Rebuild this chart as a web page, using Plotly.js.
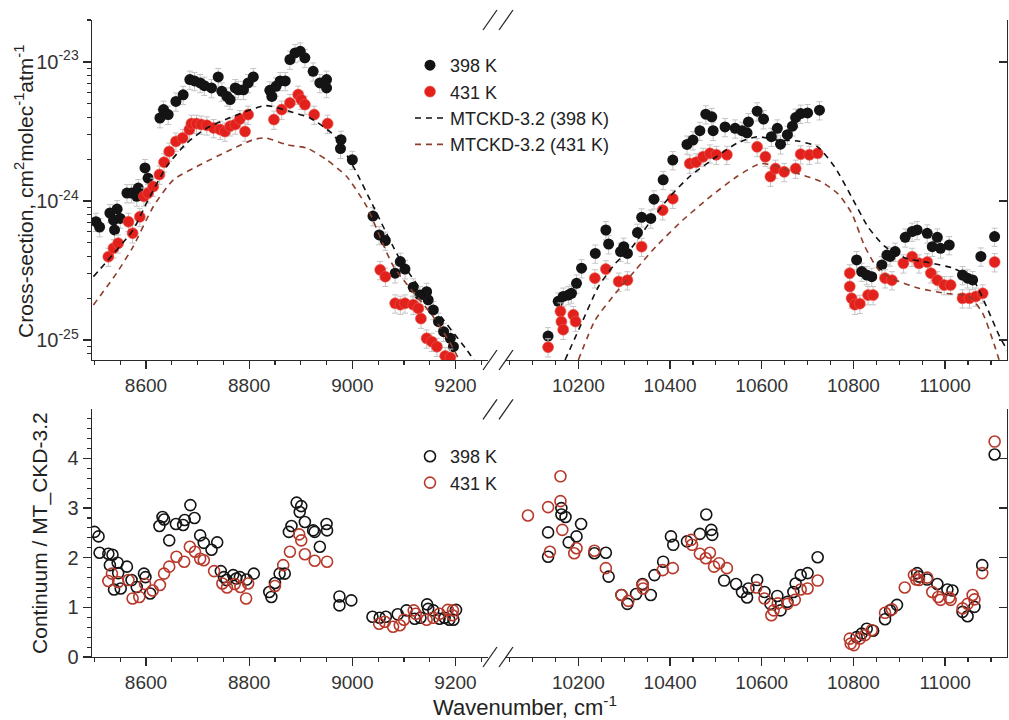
<!DOCTYPE html>
<html><head><meta charset="utf-8">
<script src="https://cdn.plot.ly/plotly-3.0.1.min.js"></script>
<style>html,body{margin:0;padding:0;background:#fff}#chart{width:1009px;height:720px}</style>
</head><body><div id="chart"></div>
<script>
// ---------- DATA ----------
// Cross-section, 398 K (cm^2 molec^-1 atm^-1)
const nu398 = [8503,8510,8530,8537,8539,8544,8550,8563,8572,8582,8585,8598,8604,8627,8634,8643,8658,8672,8685,8694,8705,8713,8727,8740,8747,8757,8763,8773,8779,8789,8798,8808,8840,8844,8852,8860,8870,8879,8889,8899,8908,8924,8937,8950,8950,8978,8977,9000,9040,9052,9064,9083,9093,9102,9118,9131,9144,9147,9157,9167,9177,9190,9196,
  10134,10156,10167,10178,10185,10196,10207,10237,10260,10266,10292,10299,10307,10329,10338,10358,10365,10385,10406,10437,10450,10465,10478,10491,10494,10520,10542,10557,10568,10571,10590,10604,10621,10634,10641,10656,10667,10674,10685,10700,10726,10807,10818,10829,10840,10862,10873,10880,10891,10913,10928,10939,10961,10972,10983,10990,11009,11038,11049,11060,11078,11108];
const cs398 = [7.1e-25,6.5e-25,8.2e-25,7.3e-25,6.2e-25,8.75e-25,7.5e-25,1.14e-24,1.14e-24,1.08e-24,1.24e-24,1.73e-24,1.46e-24,3.95e-24,4.54e-24,4.18e-24,5.2e-24,5.8e-24,7.46e-24,7.3e-24,7.06e-24,6.75e-24,6.5e-24,7.8e-24,6.14e-24,5.65e-24,5.36e-24,6.5e-24,6.3e-24,6.3e-24,7.06e-24,7.8e-24,6.25e-24,5.65e-24,6.67e-24,7.3e-24,7.3e-24,1.04e-23,1.16e-23,1.19e-23,1.07e-23,8.55e-24,7.06e-24,7.46e-24,6.5e-24,2.76e-24,2.38e-24,1.98e-24,7.8e-25,5.7e-25,5.2e-25,3.03e-25,3.67e-25,3.24e-25,2.4e-25,2.11e-25,2.23e-25,1.95e-25,1.65e-25,1.36e-25,1.15e-25,1.03e-25,8.97e-26,
  1.07e-25,1.9e-25,2.06e-25,2.11e-25,2.17e-25,2.56e-25,3.29e-25,4.2e-25,6.19e-25,4.9e-25,4.33e-25,4.7e-25,4.2e-25,5.93e-25,7.64e-25,7.5e-25,1.03e-24,1.42e-24,1.97e-24,2.55e-24,2.74e-24,3.2e-24,4.21e-24,4.03e-24,3.2e-24,3.41e-24,3.33e-24,3.2e-24,3.09e-24,3.7e-24,4.42e-24,3.88e-24,2.9e-24,3.33e-24,2.56e-24,3.0e-24,3.45e-24,3.98e-24,4.25e-24,4.3e-24,4.5e-24,3.77e-25,3.11e-25,2.94e-25,2.86e-25,3.47e-25,4.09e-25,4.0e-25,4.33e-25,5.48e-25,6.03e-25,6.2e-25,5.86e-25,4.7e-25,5.48e-25,4.57e-25,4.83e-25,2.94e-25,2.79e-25,2.71e-25,4.0e-25,5.55e-25];
// Cross-section, 431 K
const nu431 = [8527,8537,8546,8566,8574,8588,8596,8604,8614,8626,8635,8645,8658,8671,8684,8688,8698,8707,8718,8731,8744,8753,8763,8773,8782,8792,8798,8848,8863,8879,8895,8901,8908,8926,8952,9054,9064,9083,9093,9102,9118,9128,9133,9144,9154,9164,9180,9190,
  10134,10161,10163,10167,10189,10194,10236,10260,10288,10307,10338,10384,10406,10443,10457,10472,10487,10501,10524,10590,10608,10619,10630,10649,10674,10685,10704,10722,10792,10792,10796,10803,10814,10832,10843,10869,10884,10909,10928,10943,10961,10969,10983,10998,11012,11038,11053,11067,11082,11108];
const cs431 = [3.98e-25,4.58e-25,4.97e-25,7.1e-25,5.87e-25,7.7e-25,1.08e-24,1.14e-24,1.27e-24,1.55e-24,1.9e-24,2.27e-24,2.68e-24,2.84e-24,3.26e-24,3.6e-24,3.6e-24,3.55e-24,3.5e-24,3.35e-24,3.26e-24,3.16e-24,3.45e-24,3.55e-24,3.88e-24,3.16e-24,4.18e-24,3.85e-24,4.54e-24,5.07e-24,5.82e-24,5.35e-24,4.93e-24,4.18e-24,3.6e-24,3.2e-25,2.86e-25,1.84e-25,1.8e-25,1.84e-25,1.8e-25,1.69e-25,1.43e-25,1.03e-25,9.75e-26,8.97e-26,7.7e-26,7.5e-26,
  8.9e-26,1.61e-25,1.36e-25,1.19e-25,1.52e-25,1.36e-25,2.79e-25,3.24e-25,2.64e-25,2.7e-25,4.7e-25,8.6e-25,1.04e-24,1.86e-24,1.9e-24,2.08e-24,2.2e-24,2.15e-24,2.15e-24,2.45e-24,2.08e-24,1.5e-24,1.71e-24,1.62e-24,1.71e-24,2.17e-24,2.15e-24,2.2e-24,3.03e-25,2.43e-25,2.0e-25,1.8e-25,1.83e-25,2.11e-25,2.11e-25,2.79e-25,2.7e-25,3.57e-25,3.98e-25,3.57e-25,3.64e-25,3.03e-25,2.7e-25,2.49e-25,2.49e-25,2.0e-25,2.0e-25,2.06e-25,2.17e-25,3.64e-25];
// MT_CKD-3.2 model curves
const nuM398 = [8498,8521,8575,8601,8640,8679,8718,8769,8832,8879,8918,8963,9002,9041,9093,9157,9222,9240,null,10171,10207,10244,10281,10318,10354,10399,10443,10501,10546,10590,10634,10678,10722,10759,10796,10832,10869,10913,10965,11016,11060,11090,11119,11140];
const csM398 = [2.86e-25,3.57e-25,6.2e-25,9.66e-25,1.77e-24,2.61e-24,3.35e-24,4.06e-24,4.85e-24,4.4e-24,3.95e-24,3.0e-24,1.77e-24,9.1e-25,3.77e-25,1.74e-25,8.5e-26,6.8e-26,null,7.2e-26,1.32e-25,2.43e-25,3.57e-25,4.7e-25,6.9e-25,1.07e-24,1.5e-24,2.08e-24,2.6e-24,2.9e-24,2.74e-24,2.7e-24,2.45e-24,1.76e-24,1.07e-24,6.5e-25,4.7e-25,3.9e-25,3.6e-25,3.3e-25,2.75e-25,1.75e-25,1.06e-25,8.0e-26];
const nuM431 = [8498,8543,8575,8614,8653,8705,8757,8808,8832,8873,8912,8950,8989,9028,9080,9157,9190,9209,null,10200,10237,10281,10325,10369,10428,10487,10546,10597,10634,10678,10729,10766,10796,10825,10855,10891,10943,11001,11053,11082,11104,11119];
const csM431 = [1.79e-25,3.03e-25,4.7e-25,9.1e-25,1.42e-24,1.82e-24,2.27e-24,2.76e-24,2.84e-24,2.54e-24,2.4e-24,1.98e-24,1.5e-24,9.1e-25,3.38e-25,1.47e-25,9.5e-26,7.0e-26,null,7.2e-26,1.4e-25,2.17e-25,3.2e-25,4.7e-25,7.3e-25,1.07e-24,1.5e-24,1.86e-24,1.77e-24,1.58e-24,1.38e-24,1.13e-24,8.2e-25,4.7e-25,3.2e-25,2.71e-25,2.36e-25,2.17e-25,2.06e-25,1.56e-25,1.0e-25,7.0e-26];
// Ratio continuum / MT_CKD-3.2
const nuR398 = [8500,8508,8510,8527,8535,8530,8538,8545,8546,8551,8563,8572,8582,8596,8599,8608,8626,8632,8635,8645,8658,8672,8675,8686,8694,8705,8712,8727,8738,8745,8751,8756,8769,8775,8782,8795,8809,8839,8843,8850,8859,8869,8877,8882,8892,8898,8901,8908,8924,8927,8937,8950,8951,8975,8975,8998,9039,9053,9065,9088,9105,9121,9132,9145,9147,9157,9169,9179,9188,9196,9201,
  10134,10134,10163,10163,10172,10179,10196,10206,10235,10260,10266,10294,10307,10326,10340,10358,10366,10385,10402,10407,10437,10465,10479,10490,10492,10518,10544,10557,10568,10571,10590,10606,10619,10634,10641,10656,10669,10674,10685,10700,10722,10807,10818,10829,10843,10869,10880,10895,10939,10943,10961,10983,11005,11016,11038,11049,11064,11081,11108];
const ratio398 = [2.52,2.43,2.10,2.08,2.06,1.85,1.36,1.90,1.69,1.38,1.82,1.55,1.41,1.68,1.61,1.28,2.64,2.82,2.77,2.35,2.68,2.66,2.76,3.06,2.80,2.45,2.30,2.16,2.31,1.73,1.61,1.55,1.65,1.58,1.61,1.56,1.68,1.31,1.21,1.49,1.68,1.68,2.52,2.64,3.11,2.92,3.04,2.72,2.55,2.52,2.22,2.68,2.55,1.22,1.04,1.14,0.81,0.79,0.81,0.86,0.94,0.77,0.79,1.06,0.97,0.94,0.77,0.79,0.75,0.75,0.95,
  2.51,2.02,3.00,2.87,2.82,2.31,2.43,2.68,2.09,2.10,1.62,1.25,1.07,1.27,1.47,1.25,1.65,1.92,2.43,2.26,2.33,2.48,2.87,2.56,2.46,1.54,1.47,1.31,1.20,1.38,1.55,1.31,1.07,1.23,0.94,1.11,1.31,1.48,1.65,1.69,2.01,0.40,0.47,0.57,0.53,0.76,0.94,1.05,1.69,1.62,1.56,1.47,1.36,1.34,0.91,0.82,1.01,1.85,4.08];
const nuR431 = [8527,8534,8546,8566,8574,8587,8598,8613,8627,8635,8645,8659,8674,8685,8695,8705,8712,8732,8748,8757,8772,8783,8794,8798,8850,8866,8879,8897,8901,8908,8927,8951,9052,9063,9079,9092,9100,9119,9123,9144,9157,9169,9185,9194,9195,
  10090,10134,10138,10161,10161,10165,10191,10196,10235,10260,10294,10309,10340,10341,10384,10406,10446,10448,10465,10478,10487,10496,10507,10524,10588,10606,10621,10626,10635,10656,10672,10685,10700,10722,10792,10794,10801,10814,10825,10840,10869,10884,10912,10932,10937,10943,10961,10972,10985,10990,11009,11012,11038,11049,11060,11064,11081,11108];
const ratio431 = [1.53,1.68,1.51,1.55,1.18,1.21,1.47,1.34,1.45,1.68,1.82,2.02,1.92,2.22,2.12,1.98,1.95,1.73,1.48,1.40,1.47,1.41,1.18,1.48,1.43,1.85,2.12,2.47,2.35,2.07,1.94,1.92,0.67,0.71,0.61,0.64,0.75,0.94,0.87,0.75,0.79,0.87,0.95,0.84,0.94,
  2.85,3.02,2.12,3.64,3.14,2.56,2.09,2.19,2.14,1.79,1.25,1.13,1.45,1.38,1.75,1.79,2.36,2.26,2.08,1.99,2.10,1.82,1.89,1.79,1.40,1.18,0.84,0.94,1.08,1.07,1.15,1.36,1.38,1.54,0.37,0.27,0.24,0.37,0.44,0.54,0.89,0.96,1.40,1.65,1.56,1.55,1.60,1.31,1.21,1.15,1.20,1.15,0.98,1.07,1.25,1.16,1.69,4.34];
const logTickVals = [1e-25,1e-24,1e-23];
const logTickText = ['10<sup>-25</sup>','10<sup>-24</sup>','10<sup>-23</sup>'];
const seriesNames = ['398 K','431 K','MTCKD-3.2 (398 K)','MTCKD-3.2 (431 K)'];

// ---------- LAYOUT GEOMETRY ----------
const W=1009,H=720,ML=92,MR=2,MT=20,MB=63;
const PW=W-ML-MR, PH=H-MT-MB;
const fx=p=>(p-ML)/PW, fy=p=>(H-MB-p)/PH;
const leftDom=[0,fx(488)], rightDom=[fx(505),1];
const topDom=[fy(360),1], botDom=[0,fy(409.3)];
const leftRange=[8495.3,9263], rightRange=[10040,11135];
const topRange=[Math.log10(7.2e-26),Math.log10(2.0e-23)], botRange=[0,4.99];

const FONT='Liberation Sans, Arial, sans-serif';
const AX='#2a2a2a';
const BLACK='#141414', RED='#e2211c', BROWN='#8e3d2c', RRED='#b8392b';

function xax(dom,range,anchor,t0,showLabels){
  return {domain:dom,range:range,anchor:anchor,showline:true,linecolor:AX,linewidth:1.3,
    ticks:'outside',ticklen:8,tickwidth:1.3,tickcolor:AX,tickmode:'linear',tick0:t0,dtick:200,tickformat:'d',
    minor:{ticks:'outside',ticklen:4,tickwidth:1.2,tickcolor:AX,dtick:50,tick0:t0},
    showticklabels:showLabels,tickfont:{family:FONT,size:19,color:'#333'},
    showgrid:false,zeroline:false,fixedrange:true};
}
function xtop(over,dom,range,anchor,t0){
  return {overlaying:over,side:'top',domain:dom,range:range,anchor:anchor,showline:true,linecolor:AX,linewidth:1.3,
    ticks:'inside',ticklen:8,tickwidth:1.3,tickcolor:AX,tickmode:'linear',tick0:t0,dtick:200,
    minor:{ticks:'inside',ticklen:4,tickwidth:1.2,tickcolor:AX,dtick:50,tick0:t0},
    showticklabels:false,showgrid:false,zeroline:false,fixedrange:true};
}
const minorLog=[];
for(let e=-26;e<=-23;e++){for(let m=2;m<=9;m++){minorLog.push(m*Math.pow(10,e));}}

const layout={
  width:W,height:H,margin:{l:ML,r:MR,t:MT,b:MB},
  paper_bgcolor:'#fff',plot_bgcolor:'#fff',
  font:{family:FONT,size:19,color:'#222'},
  showlegend:true,
  xaxis:xax(leftDom,leftRange,'y',8600,true),
  xaxis2:xax(rightDom,rightRange,'y2',10000,true),
  xaxis3:xax(leftDom,leftRange,'y3',8600,true),
  xaxis4:xax(rightDom,rightRange,'y4',10000,true),
  xaxis5:xtop('x',leftDom,leftRange,'y',8600),
  xaxis6:xtop('x2',rightDom,rightRange,'y2',10000),
  xaxis7:xtop('x3',leftDom,leftRange,'y3',8600),
  xaxis8:xtop('x4',rightDom,rightRange,'y4',10000),
  yaxis:{domain:topDom,type:'log',range:topRange,anchor:'x',side:'left',showline:true,linecolor:AX,linewidth:1.3,
    ticks:'outside',ticklen:8,tickwidth:1.3,tickcolor:AX,tickmode:'array',tickvals:logTickVals,ticktext:logTickText,
    minor:{ticks:'outside',ticklen:4,tickwidth:1.1,tickcolor:AX,tickmode:'array',tickvals:minorLog},
    tickfont:{family:FONT,size:20,color:'#333'},showgrid:false,zeroline:false,fixedrange:true},
  yaxis2:{domain:topDom,type:'log',range:topRange,anchor:'x2',side:'right',showline:true,linecolor:AX,linewidth:1.3,
    ticks:'inside',ticklen:8,tickwidth:1.3,tickcolor:AX,tickmode:'array',tickvals:logTickVals,
    showticklabels:false,showgrid:false,zeroline:false,fixedrange:true},
  yaxis3:{domain:botDom,range:botRange,anchor:'x3',side:'left',showline:true,linecolor:AX,linewidth:1.3,
    ticks:'outside',ticklen:8,tickwidth:1.3,tickcolor:AX,tickmode:'linear',tick0:0,dtick:1,
    minor:{ticks:'outside',ticklen:4,tickwidth:1.1,tickcolor:AX,dtick:0.2,tick0:0},
    tickfont:{family:FONT,size:20,color:'#333'},showgrid:false,zeroline:false,fixedrange:true,
    title:{text:'Continuum / MT_CKD-3.2',font:{family:FONT,size:21,color:'#222'},standoff:14}},
  yaxis4:{domain:botDom,range:botRange,anchor:'x4',side:'right',showline:true,linecolor:AX,linewidth:1.3,
    ticks:'inside',ticklen:8,tickwidth:1.3,tickcolor:AX,tickmode:'linear',tick0:0,dtick:1,
    showticklabels:false,showgrid:false,zeroline:false,fixedrange:true},
  legend:{x:fx(410),y:fy(47),xanchor:'left',yanchor:'top',bgcolor:'rgba(255,255,255,0)',
    font:{family:FONT,size:18,color:'#222'},tracegroupgap:0,itemwidth:30,traceorder:'normal'},
  legend2:{x:fx(410),y:fy(438),xanchor:'left',yanchor:'top',bgcolor:'rgba(255,255,255,0)',
    font:{family:FONT,size:18,color:'#222'},tracegroupgap:0,itemwidth:30,traceorder:'normal'},
  annotations:[
    {text:'Wavenumber, cm<sup>-1</sup>',xref:'paper',yref:'paper',x:fx(525),y:fy(706),
      xanchor:'center',yanchor:'middle',showarrow:false,font:{family:FONT,size:22,color:'#222'}},
    {text:'Cross-section, cm<sup>2</sup>molec<sup>-1</sup>atm<sup>-1</sup>',xref:'paper',yref:'paper',x:fx(24),y:fy(192),
      xanchor:'center',yanchor:'middle',textangle:-90,showarrow:false,font:{family:FONT,size:21,color:'#222'}}
  ],
  shapes:[]
};
// axis-break slashes
[20,360,409.3,657].forEach(py=>{
  [[483,497],[499,513]].forEach(([a,b])=>{
    layout.shapes.push({type:'line',xref:'paper',yref:'paper',x0:fx(a),x1:fx(b),y0:fy(py+10),y1:fy(py-10),
      line:{color:AX,width:1.3}});
  });
});

const err={type:'percent',value:15,color:'#c4c4c4',thickness:1,width:3};
const traces=[];
[['x','y',true],['x2','y2',false]].forEach(([xa,ya,show])=>{
  traces.push({type:'scatter',mode:'markers',x:nu398,y:cs398,name:seriesNames[0],xaxis:xa,yaxis:ya,showlegend:show,legendgroup:'a',
    marker:{color:BLACK,size:11},error_y:err});
  traces.push({type:'scatter',mode:'markers',x:nu431,y:cs431,name:seriesNames[1],xaxis:xa,yaxis:ya,showlegend:show,legendgroup:'b',
    marker:{color:RED,size:11,line:{color:'rgba(235,90,80,0.6)',width:1}},error_y:err});
  traces.push({type:'scatter',mode:'lines',x:nuM398,y:csM398,name:seriesNames[2],xaxis:xa,yaxis:ya,showlegend:show,legendgroup:'c',
    line:{color:'#111',width:1.6,dash:'6px,5px',shape:'spline',smoothing:0.6}});
  traces.push({type:'scatter',mode:'lines',x:nuM431,y:csM431,name:seriesNames[3],xaxis:xa,yaxis:ya,showlegend:show,legendgroup:'d',
    line:{color:BROWN,width:1.6,dash:'6px,5px',shape:'spline',smoothing:0.6}});
});
[['x3','y3',true],['x4','y4',false]].forEach(([xa,ya,show])=>{
  traces.push({type:'scatter',mode:'markers',x:nuR398,y:ratio398,name:seriesNames[0],xaxis:xa,yaxis:ya,showlegend:show,legend:'legend2',legendgroup:'e',
    marker:{symbol:'circle-open',color:BLACK,size:11,line:{width:1.6}}});
  traces.push({type:'scatter',mode:'markers',x:nuR431,y:ratio431,name:seriesNames[1],xaxis:xa,yaxis:ya,showlegend:show,legend:'legend2',legendgroup:'f',
    marker:{symbol:'circle-open',color:RRED,size:11,line:{width:1.6}}});
});
Plotly.newPlot('chart',traces,layout,{displayModeBar:false,staticPlot:true});
</script></body></html>
